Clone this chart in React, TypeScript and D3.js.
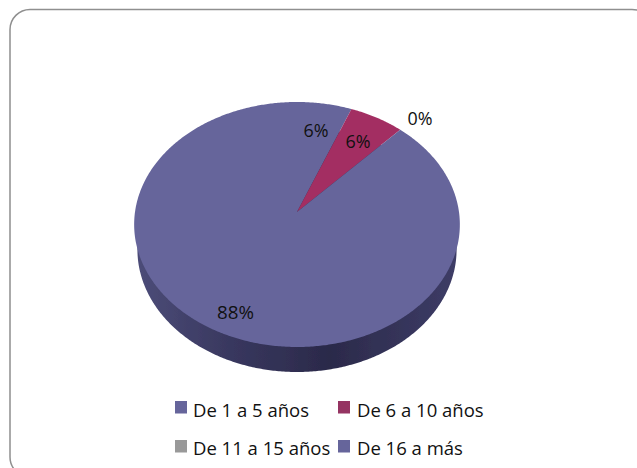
import React from "react";
import * as d3 from "d3";

const categories = ["De 1 a 5 años", "De 6 a 10 años", "De 11 a 15 años", "De 16 a más"];
const values = [6, 6, 0, 88];
const labels = ["6%", "6%", "0%", "88%"];
const colors = ["#66659b", "#a32f62", "#999999", "#66659b"];
const swatchColors = ["#66659b", "#953462", "#999999", "#66659b"];

// Perspective projection of the pie disc (unit circle) on the page
const cx = 297;
const apexY = 212;
const widthScale = 162;
const persp = 0.102;
const vScale = -99.6;
const depth = 25;

const labelPos: [number, number][] = [[316, 137], [358, 148], [420, 125], [235.5, 319]];
const legendPos: [number, number][] = [[175, 401], [338, 401], [175, 440], [338, 440]];
const legendBase = [417, 417, 455, 455];
const legendText = [193, 357, 193, 357];

function project(angle: number, r = 1): [number, number] {
  const u = r * Math.sin(angle);
  const v = r * Math.cos(angle);
  const den = 1 + persp * v;
  return [cx + (widthScale * u) / den, (vScale * v + apexY) / den];
}

function wedge(a0: number, a1: number): string {
  const n = Math.max(2, Math.ceil((a1 - a0) / 0.01));
  const angles = d3.range(n + 1).map((i) => a0 + ((a1 - a0) * i) / n);
  const pts: [number, number][] = [[cx, apexY], ...angles.map((a) => project(a))];
  return (d3.line()(pts) as string) + "Z";
}

export default function App() {
  const pie = d3.pie<number>().sort(null)(values);
  const disc = wedge(0, 2 * Math.PI);
  return (
    <svg width={637} height={468} style={{ position: "absolute", left: 0, top: 0 }}
      fontFamily="'Open Sans', 'Noto Sans', sans-serif">
      <defs>
        <linearGradient id="side" x1="0" x2="1" y1="0" y2="0">
          <stop offset="0" stopColor="#4c4c78" />
          <stop offset="0.3" stopColor="#38375e" />
          <stop offset="0.6" stopColor="#2b2a4a" />
          <stop offset="1" stopColor="#3d3c66" />
        </linearGradient>
        <filter id="soft"><feGaussianBlur stdDeviation="0.7" /></filter>
      </defs>
      <rect x={0} y={0} width={637} height={468} fill="#fff" />
      <rect x={10} y={9.5} width={642} height={467.5} rx={20} ry={20} fill="none" stroke="#8f8f8f" strokeWidth={1.5} />
      <g filter="url(#soft)">
        <path d={disc} transform={`translate(${cx * 0.02},${depth})  scale(0.98,1)`} fill="url(#side)" />
        {pie.map((d, i) => (
          <path key={i} d={wedge(d.startAngle, d.endAngle)} fill={colors[i]} />
        ))}
      </g>
      {labels.map((t, i) => (
        <text key={i} x={labelPos[i][0]} y={labelPos[i][1]} fontSize={18} textAnchor="middle" fill="#111"
          textLength={i === 3 ? 37 : 25} lengthAdjust="spacingAndGlyphs">{t}</text>
      ))}
      {categories.map((c, i) => (
        <g key={c}>
          <rect x={legendPos[i][0]} y={legendPos[i][1]} width={12} height={12.5} fill={swatchColors[i]} />
          <text x={legendText[i]} y={legendBase[i]} fontSize={18.5} fill="#111">{c}</text>
        </g>
      ))}
    </svg>
  );
}
